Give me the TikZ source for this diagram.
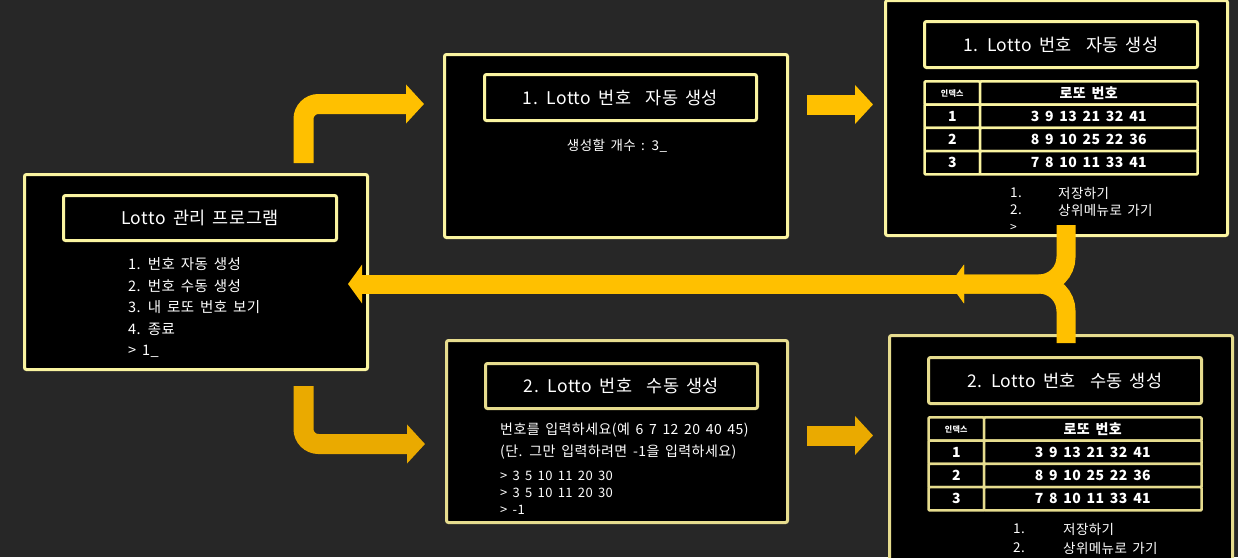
\documentclass[tikz,border=0pt]{standalone}
\usepackage{fontspec}
\setmainfont{Noto Sans CJK KR}[LetterSpace=3,WordSpace=1.6]
\definecolor{lottobg}{RGB}{39,39,39}
\definecolor{lottoedge}{RGB}{250,244,160}
\definecolor{lottoedge2}{RGB}{230,220,142}
\definecolor{lottogold}{RGB}{255,192,0}
\definecolor{lottogold2}{RGB}{234,170,0}
\usetikzlibrary{arrows.meta}
\tikzset{
  panel/.style={draw=lottoedge,line width=3pt,fill=black,rounded corners=2pt,inner sep=0pt},
  titlebox/.style={panel,text=white,font=\fontsize{17.5}{20}\selectfont},
  txt/.style={text=white,inner sep=0pt,font=\fontsize{14.5}{17}\selectfont},
  cell/.style={draw=lottoedge,line width=2.5pt,fill=black,rounded corners=1pt,text=white,inner sep=0pt,
    minimum height=23.25pt,font=\bfseries\fontsize{14}{16}\selectfont},
  flow/.style={draw=lottogold,line width=20pt,rounded corners=15pt,-{Triangle[width=38pt,length=18pt]}},
  back/.style={draw=lottogold,line width=19pt,rounded corners=27pt,-{Triangle[width=38pt,length=14pt]}},
}
\begin{document}
\begin{tikzpicture}[x=1pt,y=-1pt]
  \fill[lottobg] (0,0) rectangle (1238,557);
  \useasboundingbox (0,0) rectangle (1238,557);
  \clip (0,0) rectangle (1238,557);

  % main menu
  \node[panel,minimum width=343pt,minimum height=195pt] (main) at (196,272) {};
  \node[titlebox,minimum width=273pt,minimum height=45pt] (maintitle) at (200,218) {Lotto 관리 프로그램};
  \foreach \t [count=\i] in {1. 번호 자동 생성,2. 번호 수동 생성,3. 내 로또 번호 보기,4. 종료,> 1\_}
    \node[txt,anchor=west] (menu\i) at (128,242.25+21.75*\i) {\t};

  % 1. auto
  \node[panel,minimum width=343pt,minimum height=183pt] (auto) at (616,146) {};
  \node[titlebox,minimum width=272pt,minimum height=46pt] (autotitle) at (620.5,97.5) {1. Lotto 번호\ \ 자동 생성};
  \node[txt,font=\fontsize{13.5}{16}\selectfont] (autoask) at (617,146) {생성할 개수 : 3\_};

  % 1. auto result
  \node[panel,minimum width=342pt,minimum height=235pt] (autores) at (1056.5,118) {};
  \node[titlebox,minimum width=273pt,minimum height=46pt] (autorestitle) at (1061,44.5) {1. Lotto 번호\ \ 자동 생성};
  \node[cell,minimum width=55.5pt,font=\bfseries\fontsize{8}{10}\selectfont] (aidx) at (952.25,93.1) {인덱스};
  \node[cell,minimum width=217.5pt] (anum) at (1088.75,93.1) {로또 번호};
  \foreach \k/\n [count=\r] in {1/3 9 13 21 32 41,2/8 9 10 25 22 36,3/7 8 10 11 33 41} {
    \node[cell,minimum width=55.5pt] (aidx\r) at (952.25,93.1+23.25*\r) {\k};
    \node[cell,minimum width=217.5pt] (anum\r) at (1088.75,93.1+23.25*\r) {\n};
  }
  \node[txt,anchor=west,font=\fontsize{13.5}{16}\selectfont] (asave1) at (1010,193) {1.};
  \node[txt,anchor=west,font=\fontsize{13.5}{16}\selectfont] (asave) at (1058,193) {저장하기};
  \node[txt,anchor=west,font=\fontsize{13.5}{16}\selectfont] (aup2) at (1010,210) {2.};
  \node[txt,anchor=west,font=\fontsize{13.5}{16}\selectfont] (aup) at (1058,210) {상위메뉴로 가기};
  \node[txt,anchor=west,font=\fontsize{12}{14}\selectfont] (aprompt) at (1010,228) {>};

  % 2. manual
  \node[panel,draw=lottoedge2,minimum width=341pt,minimum height=182pt] (manual) at (617,431.5) {};
  \node[titlebox,draw=lottoedge2,minimum width=272pt,minimum height=45pt] (manualtitle) at (621.5,386) {2. Lotto 번호\ \ 수동 생성};
  \node[txt,anchor=west,font=\fontsize{14}{17}\selectfont] (mask1) at (500,430) {번호를 입력하세요(예 6 7 12 20 40 45)};
  \node[txt,anchor=west,font=\fontsize{14}{17}\selectfont] (mask2) at (500,452) {(단. 그만 입력하려면 -1을 입력하세요)};
  \node[txt,anchor=west,font=\fontsize{13}{15}\selectfont] (min1) at (500,476) {> 3 5 10 11 20 30};
  \node[txt,anchor=west,font=\fontsize{13}{15}\selectfont] (min2) at (500,493) {> 3 5 10 11 20 30};
  \node[txt,anchor=west,font=\fontsize{13}{15}\selectfont] (min3) at (500,510) {> -1};

  % 2. manual result
  \node[panel,draw=lottoedge2,minimum width=343pt,minimum height=240pt] (manualres) at (1061,455.5) {};
  \node[titlebox,draw=lottoedge2,minimum width=273pt,minimum height=46pt] (manualrestitle) at (1065,380.5) {2. Lotto 번호\ \ 수동 생성};
  \node[cell,draw=lottoedge2,minimum width=55.5pt,font=\bfseries\fontsize{8}{10}\selectfont] (midx) at (956.25,429.1) {인덱스};
  \node[cell,draw=lottoedge2,minimum width=217.5pt] (mnum) at (1092.75,429.1) {로또 번호};
  \foreach \k/\n [count=\r] in {1/3 9 13 21 32 41,2/8 9 10 25 22 36,3/7 8 10 11 33 41} {
    \node[cell,draw=lottoedge2,minimum width=55.5pt] (midx\r) at (956.25,429.1+23.25*\r) {\k};
    \node[cell,draw=lottoedge2,minimum width=217.5pt] (mnum\r) at (1092.75,429.1+23.25*\r) {\n};
  }
  \node[txt,anchor=west,font=\fontsize{13.5}{16}\selectfont] (msave1) at (1013,529) {1.};
  \node[txt,anchor=west,font=\fontsize{13.5}{16}\selectfont] (msave) at (1063,529) {저장하기};
  \node[txt,anchor=west,font=\fontsize{13.5}{16}\selectfont] (mup2) at (1013,548) {2.};
  \node[txt,anchor=west,font=\fontsize{13.5}{16}\selectfont] (mup) at (1063,548) {상위메뉴로 가기};

  % arrows
  \coordinate (upfrom) at (303.5,163);
  \coordinate (upto) at (424,104);
  \coordinate (downfrom) at (303.5,386);
  \coordinate (downto) at (425,444);
  \coordinate (autoout) at (807,104.5);
  \coordinate (autoin) at (873,104.5);
  \coordinate (manualout) at (807,435.5);
  \coordinate (manualin) at (873,435.5);
  \coordinate (jtop) at (1066,225);
  \coordinate (jbot) at (1066,343);
  \coordinate (jmid) at (950,284);
  \coordinate (backfrom) at (962,284);
  \coordinate (backto) at (348,284);
  \draw[flow] (upfrom) |- (upto);
  \draw[flow,draw=lottogold2] (downfrom) |- (downto);
  \draw[flow] (autoout) -- (autoin);
  \draw[flow,draw=lottogold2] (manualout) -- (manualin);
  \draw[back] (jtop) |- (jmid);
  \draw[back] (jbot) |- (jmid);
  \draw[back] (backfrom) -- (backto);
\end{tikzpicture}
\end{document}
